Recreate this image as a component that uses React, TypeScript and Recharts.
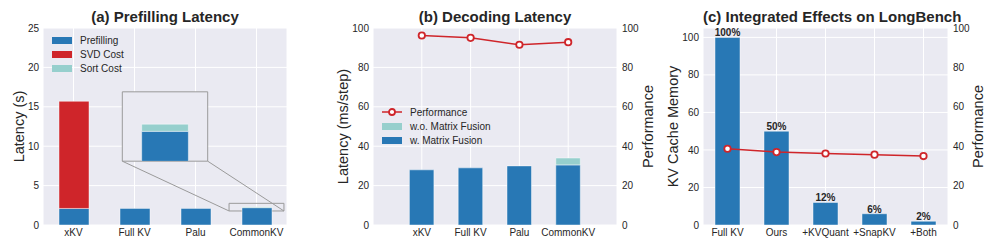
import React from "react";
import {
  Bar,
  BarChart,
  CartesianGrid,
  ComposedChart,
  LabelList,
  Line,
  ReferenceArea,
  ReferenceLine,
  XAxis,
  YAxis,
} from "recharts";

const FONT = '"Liberation Sans", Arial, sans-serif';
const INK = "#262626";
const PANEL_BG = "#eaeaf2";
const COLORS = {
  blue: "#2878b5",
  red: "#cf252a",
  teal: "#96cfcd",
  frame: "#9a9a9a",
} as const;
const EDGE = "rgba(255,255,255,0.45)";

// (a) prefilling latency, seconds
const prefillLabels = ["xKV", "Full KV", "Palu", "CommonKV"];
const prefillTime = [2.1, 2.1, 2.1, 2.2];
const svdCost = [13.6, 0, 0, 0];
const sortCost = [0, 0, 0, 0.1];
const prefillTicks = [0, 5, 10, 15, 20, 25];

// (b) decoding latency, ms/step + performance
const decodeLabels = ["xKV", "Full KV", "Palu", "CommonKV"];
const withFusion = [28, 29, 30, 30.5];
const withoutFusion = [28, 29, 30, 34];
const decodePerf = [96.2, 95, 91.5, 92.8];
const pctTicks = [0, 20, 40, 60, 80, 100];

// (c) LongBench: memory share + performance
const benchLabels = ["Full KV", "Ours", "+KVQuant", "+SnapKV", "+Both"];
const kvMemory = [100, 50, 12, 6, 2];
const benchPerf = [38.7, 37, 36.3, 35.7, 35];

// zoom window on CommonKV bar top and where the inset sits (panel a data coords)
const zoomX = [2.55, 3.45];
const zoomY = [1.78, 2.75];
const insetX = [0.8, 2.2];
const insetY = [8.1, 16.9];

// panel a plot box (px) so the html inset can line up with the data coords
const A = { left: 43, top: 28, w: 244, h: 197, x0: -0.5, x1: 3.5, y1: 25 };
const ax = (v: number) => A.left + ((v - A.x0) / (A.x1 - A.x0)) * A.w;
const ay = (v: number) => A.top + A.h - (v / A.y1) * A.h;

const tickStyle = { fontSize: 10, fill: INK, fontFamily: FONT };
const axisLabel = { fontSize: 14.5, fill: INK, fontFamily: FONT, textAnchor: "middle" as const };

type LegendItem = { label: string; color: string; kind: "bar" | "line" };

function SwatchLegend({ items, left, top }: { items: LegendItem[]; left: number; top: number }) {
  return (
    <div style={{ position: "absolute", left, top, fontFamily: FONT, fontSize: 10, color: INK }}>
      {items.map((it) => (
        <div key={it.label} style={{ display: "flex", alignItems: "center", height: 14 }}>
          {it.kind === "bar" ? (
            <div style={{ width: 20, height: 7, background: it.color, marginRight: 8 }} />
          ) : (
            <svg width={20} height={10} style={{ marginRight: 8 }}>
              <line x1={0} x2={20} y1={5} y2={5} stroke={it.color} strokeWidth={1.5} />
              <circle cx={10} cy={5} r={3} fill="#fff" stroke={it.color} strokeWidth={1.8} />
            </svg>
          )}
          <span>{it.label}</span>
        </div>
      ))}
    </div>
  );
}

function Title({ text, left, width }: { text: string; left: number; width: number }) {
  return (
    <div
      style={{
        position: "absolute",
        left,
        top: 8,
        width,
        textAlign: "center",
        fontFamily: FONT,
        fontWeight: 700,
        fontSize: 15,
        lineHeight: "17px",
        color: INK,
        whiteSpace: "nowrap",
      }}
    >
      {text}
    </div>
  );
}

function PrefillPanel() {
  const rows = prefillLabels.map((name, i) => ({
    x: i,
    name,
    prefill: prefillTime[i],
    svd: svdCost[i] || null,
    sort: sortCost[i] || null,
  }));
  const insetRows = rows.filter((r) => r.sort);
  const insetW = ax(insetX[1]) - ax(insetX[0]);
  const insetH = ay(insetY[0]) - ay(insetY[1]);
  const insetBar = 30 * (insetW / (ax(zoomX[1]) - ax(zoomX[0])));

  return (
    <div style={{ position: "absolute", left: 0, top: 0, width: 330, height: 249 }}>
      <ComposedChart width={330} height={249} data={rows} margin={{ top: 28, right: 43, bottom: 0, left: 0 }}>
        <CartesianGrid fill={PANEL_BG} stroke="#fff" strokeWidth={1} />
        <XAxis
          type="number"
          dataKey="x"
          domain={[A.x0, A.x1]}
          ticks={[0, 1, 2, 3]}
          tickFormatter={(v: number) => prefillLabels[v] ?? ""}
          height={24}
          tick={tickStyle}
          tickLine={false}
          axisLine={false}
          tickSize={0}
          tickMargin={4}
          interval={0}
        />
        <YAxis
          domain={[0, 25]}
          ticks={prefillTicks}
          width={43}
          tick={tickStyle}
          tickLine={false}
          axisLine={false}
          tickSize={0}
          tickMargin={4}
          label={{ value: "Latency (s)", angle: -90, position: "insideLeft", offset: 19, style: axisLabel }}
        />
        <ReferenceArea
          x1={insetX[0]}
          x2={insetX[1]}
          y1={insetY[0]}
          y2={insetY[1]}
          fill={PANEL_BG}
          fillOpacity={1}
          stroke={COLORS.frame}
          strokeWidth={1}
        />
        <ReferenceArea
          x1={zoomX[0]}
          x2={zoomX[1]}
          y1={zoomY[0]}
          y2={zoomY[1]}
          fill="none"
          fillOpacity={0}
          stroke={COLORS.frame}
          strokeWidth={1}
        />
        <ReferenceLine
          segment={[
            { x: insetX[0], y: insetY[0] },
            { x: zoomX[0], y: zoomY[0] },
          ]}
          stroke={COLORS.frame}
          strokeWidth={1}
        />
        <ReferenceLine
          segment={[
            { x: insetX[1], y: insetY[0] },
            { x: zoomX[1], y: zoomY[0] },
          ]}
          stroke={COLORS.frame}
          strokeWidth={1}
        />
        <Bar dataKey="prefill" stackId="p" fill={COLORS.blue} stroke={EDGE} barSize={30} isAnimationActive={false} />
        <Bar dataKey="svd" stackId="p" fill={COLORS.red} stroke={EDGE} barSize={30} isAnimationActive={false} />
        <Bar dataKey="sort" stackId="p" fill={COLORS.teal} stroke={EDGE} barSize={30} isAnimationActive={false} />
      </ComposedChart>

      <div style={{ position: "absolute", left: ax(insetX[0]), top: ay(insetY[1]), pointerEvents: "none" }}>
        <BarChart width={insetW} height={insetH} data={insetRows} margin={{ top: 0, right: 0, bottom: 0, left: 0 }}>
          <XAxis type="number" dataKey="x" domain={zoomX} ticks={zoomX} hide allowDataOverflow />
          <YAxis domain={zoomY} hide allowDataOverflow />
          <Bar dataKey="prefill" stackId="i" fill={COLORS.blue} stroke={EDGE} barSize={insetBar} isAnimationActive={false} />
          <Bar dataKey="sort" stackId="i" fill={COLORS.teal} stroke={EDGE} barSize={insetBar} isAnimationActive={false} />
        </BarChart>
      </div>

      <SwatchLegend
        left={52}
        top={33}
        items={[
          { label: "Prefilling", color: COLORS.blue, kind: "bar" },
          { label: "SVD Cost", color: COLORS.red, kind: "bar" },
          { label: "Sort Cost", color: COLORS.teal, kind: "bar" },
        ]}
      />
      <Title text="(a) Prefilling Latency" left={43} width={244} />
    </div>
  );
}

function DecodePanel() {
  const rows = decodeLabels.map((name, i) => ({
    x: i + 1,
    name,
    fused: withFusion[i],
    extra: withoutFusion[i] - withFusion[i] || null,
    perf: decodePerf[i],
  }));

  return (
    <div style={{ position: "absolute", left: 330, top: 0, width: 330, height: 249 }}>
      <ComposedChart width={330} height={249} data={rows} margin={{ top: 28, right: 0, bottom: 0, left: 0 }}>
        <CartesianGrid fill={PANEL_BG} stroke="#fff" strokeWidth={1} />
        <XAxis
          type="number"
          dataKey="x"
          domain={[0, 5]}
          ticks={[1, 2, 3, 4]}
          tickFormatter={(v: number) => decodeLabels[v - 1] ?? ""}
          height={24}
          tick={tickStyle}
          tickLine={false}
          axisLine={false}
          tickSize={0}
          tickMargin={4}
          interval={0}
        />
        <YAxis
          domain={[0, 100]}
          ticks={pctTicks}
          width={43}
          tick={tickStyle}
          tickLine={false}
          axisLine={false}
          tickSize={0}
          tickMargin={4}
          label={{ value: "Latency (ms/step)", angle: -90, position: "insideLeft", offset: 13, style: axisLabel }}
        />
        <YAxis
          yAxisId="perf"
          orientation="right"
          domain={[0, 100]}
          ticks={pctTicks}
          width={43}
          tick={tickStyle}
          tickLine={false}
          axisLine={false}
          tickSize={0}
          tickMargin={5}
          label={{ value: "Performance", angle: -90, position: "insideRight", offset: 12, style: axisLabel }}
        />
        <Bar dataKey="fused" stackId="d" fill={COLORS.blue} stroke={EDGE} barSize={24.5} isAnimationActive={false} />
        <Bar dataKey="extra" stackId="d" fill={COLORS.teal} stroke={EDGE} barSize={24.5} isAnimationActive={false} />
        <Line
          yAxisId="perf"
          dataKey="perf"
          stroke={COLORS.red}
          strokeWidth={1.5}
          dot={{ r: 3.2, fill: "#fff", stroke: COLORS.red, strokeWidth: 1.8 }}
          isAnimationActive={false}
        />
      </ComposedChart>

      <SwatchLegend
        left={52}
        top={105}
        items={[
          { label: "Performance", color: COLORS.red, kind: "line" },
          { label: "w.o. Matrix Fusion", color: COLORS.teal, kind: "bar" },
          { label: "w. Matrix Fusion", color: COLORS.blue, kind: "bar" },
        ]}
      />
      <Title text="(b) Decoding Latency" left={43} width={244} />
    </div>
  );
}

function BenchPanel() {
  const rows = benchLabels.map((name, i) => ({
    x: i,
    name,
    mem: kvMemory[i],
    memLabel: `${kvMemory[i]}%`,
    perf: benchPerf[i],
  }));

  return (
    <div style={{ position: "absolute", left: 660, top: 0, width: 337, height: 249 }}>
      <ComposedChart width={337} height={249} data={rows} margin={{ top: 28, right: 0, bottom: 0, left: 0 }}>
        <CartesianGrid fill={PANEL_BG} stroke="#fff" strokeWidth={1} />
        <XAxis
          type="number"
          dataKey="x"
          domain={[-0.5, 4.5]}
          ticks={[0, 1, 2, 3, 4]}
          tickFormatter={(v: number) => benchLabels[v] ?? ""}
          height={24}
          tick={tickStyle}
          tickLine={false}
          axisLine={false}
          tickSize={0}
          tickMargin={4}
          interval={0}
        />
        <YAxis
          domain={[0, 105]}
          ticks={pctTicks}
          width={43}
          tick={tickStyle}
          tickLine={false}
          axisLine={false}
          tickSize={0}
          tickMargin={4}
          label={{ value: "KV Cache Memory", angle: -90, position: "insideLeft", offset: 13, style: axisLabel }}
        />
        <YAxis
          yAxisId="perf"
          orientation="right"
          domain={[0, 100]}
          ticks={pctTicks}
          width={49}
          tick={tickStyle}
          tickLine={false}
          axisLine={false}
          tickSize={0}
          tickMargin={5}
          label={{ value: "Performance", angle: -90, position: "insideRight", offset: 19, style: axisLabel }}
        />
        <Bar dataKey="mem" fill={COLORS.blue} stroke={EDGE} barSize={25} isAnimationActive={false}>
          <LabelList
            dataKey="memLabel"
            position="top"
            offset={1}
            style={{ fontSize: 10, fontWeight: 700, fill: INK, fontFamily: FONT }}
          />
        </Bar>
        <Line
          yAxisId="perf"
          dataKey="perf"
          stroke={COLORS.red}
          strokeWidth={1.5}
          dot={{ r: 3.2, fill: "#fff", stroke: COLORS.red, strokeWidth: 1.8 }}
          isAnimationActive={false}
        />
      </ComposedChart>
      <Title text="(c) Integrated Effects on LongBench" left={43} width={245} />
    </div>
  );
}

export default function App() {
  return (
    <div
      style={{
        position: "absolute",
        left: 0,
        top: 0,
        width: 997,
        height: 249,
        background: "#fff",
        overflow: "hidden",
        fontFamily: FONT,
      }}
    >
      <PrefillPanel />
      <DecodePanel />
      <BenchPanel />
    </div>
  );
}
